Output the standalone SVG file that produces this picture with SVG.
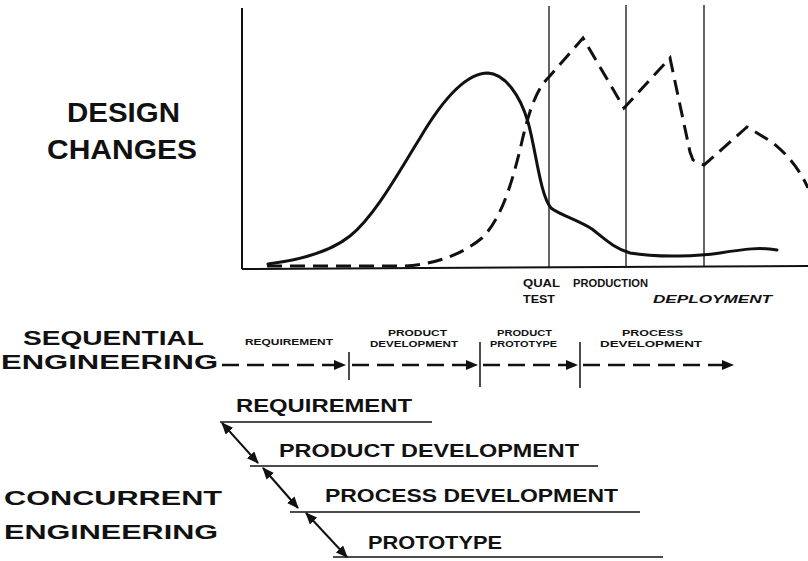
<svg xmlns="http://www.w3.org/2000/svg" width="808" height="561" viewBox="0 0 808 561">
<style>
text{font-family:"Liberation Sans",Arial,sans-serif;font-weight:bold;fill:#111}
.big{font-size:21px}
.huge{font-size:28px}
.mid{font-size:19px}
.sm{font-size:11.5px}
.xs{font-size:9px}
.ax{stroke:#111;stroke-width:2;fill:none}
.vl{stroke:#111;stroke-width:1.3;fill:none}
.sol{stroke:#111;stroke-width:3;fill:none;stroke-linejoin:round;stroke-linecap:round}
.dsh{stroke:#111;stroke-width:3;fill:none;stroke-dasharray:15 8}
.seq{stroke:#111;stroke-width:2.5;fill:none;stroke-dasharray:17 8}
.tick{stroke:#111;stroke-width:1.5}
.base{stroke:#111;stroke-width:1.5}
.dbl{stroke:#111;stroke-width:2;fill:none}
</style>
<defs>
<marker id="ah" viewBox="0 0 12 10" refX="11" refY="5" markerWidth="12" markerHeight="10" markerUnits="userSpaceOnUse" orient="auto-start-reverse">
<path d="M0,0 L12,5 L0,10 Z" fill="#111"/>
</marker>
</defs>

<g id="chart">
<line class="ax" x1="242" y1="8" x2="242" y2="269"/>
<line class="ax" x1="242" y1="269" x2="808" y2="266"/>
<line class="vl" x1="549" y1="6" x2="549" y2="268"/>
<line class="vl" x1="626" y1="5" x2="626" y2="267"/>
<line class="vl" x1="704" y1="5" x2="704" y2="266"/>
<path class="sol" d="M268,264 C300,260 330,252 350,236 C375,216 400,170 420,138 C440,104 465,73 488,73 C505,74 520,95 528,122 C536,150 540,195 551,208 C560,215 578,220 592,229 C606,240 614,248 630,253 C660,258 700,256 720,253 C745,249 760,247 777,250"/>
<path class="dsh" d="M267,266 L405,266 C440,264 465,252 482,238 C500,220 510,190 520,150 C527,118 535,90 549,77 L583,38 L624,108 L670,58 L690,152 L693,160 L704,165 L747,127 L772,142 C788,155 800,170 808,188"/>
</g>

<g id="labels-chart">
<text class="huge" x="67" y="122" textLength="113" lengthAdjust="spacingAndGlyphs">DESIGN</text>
<text class="huge" x="47" y="159" textLength="150" lengthAdjust="spacingAndGlyphs">CHANGES</text>
<text class="sm" x="523" y="287" textLength="37" lengthAdjust="spacingAndGlyphs">QUAL</text>
<text class="sm" x="523" y="303" textLength="32" lengthAdjust="spacingAndGlyphs">TEST</text>
<text class="sm" x="573" y="287" textLength="75" lengthAdjust="spacingAndGlyphs">PRODUCTION</text>
<text class="sm" x="653" y="303" textLength="119" lengthAdjust="spacingAndGlyphs" font-style="italic">DEPLOYMENT</text>
</g>

<g id="sequential">
<text class="big" x="23" y="345" textLength="181" lengthAdjust="spacingAndGlyphs">SEQUENTIAL</text>
<text class="big" x="1" y="369" textLength="217" lengthAdjust="spacingAndGlyphs">ENGINEERING</text>
<text class="xs" x="245" y="345" textLength="88" lengthAdjust="spacingAndGlyphs">REQUIREMENT</text>
<text class="xs" x="388" y="336" textLength="59" lengthAdjust="spacingAndGlyphs">PRODUCT</text>
<text class="xs" x="370" y="347" textLength="88" lengthAdjust="spacingAndGlyphs">DEVELOPMENT</text>
<text class="xs" x="497" y="336" textLength="55" lengthAdjust="spacingAndGlyphs">PRODUCT</text>
<text class="xs" x="490" y="347" textLength="67" lengthAdjust="spacingAndGlyphs">PROTOTYPE</text>
<text class="xs" x="622" y="336" textLength="61" lengthAdjust="spacingAndGlyphs">PROCESS</text>
<text class="xs" x="600" y="347" textLength="102" lengthAdjust="spacingAndGlyphs">DEVELOPMENT</text>
</g>

<g id="sequential-connectors">
<line class="seq" x1="222" y1="365" x2="345" y2="365" marker-end="url(#ah)"/>
<line class="tick" x1="349" y1="352" x2="349" y2="380"/>
<line class="seq" x1="352" y1="365" x2="477" y2="365" marker-end="url(#ah)"/>
<line class="tick" x1="480" y1="342" x2="480" y2="387"/>
<line class="seq" x1="483" y1="365" x2="577" y2="365" marker-end="url(#ah)"/>
<line class="tick" x1="580" y1="342" x2="580" y2="388"/>
<line class="seq" x1="583" y1="365" x2="733" y2="365" marker-end="url(#ah)"/>
</g>

<g id="concurrent">
<text class="big" x="4" y="505" textLength="218" lengthAdjust="spacingAndGlyphs">CONCURRENT</text>
<text class="big" x="4" y="539" textLength="214" lengthAdjust="spacingAndGlyphs">ENGINEERING</text>
<text class="mid" x="236" y="412" textLength="176" lengthAdjust="spacingAndGlyphs">REQUIREMENT</text>
<line class="base" x1="220" y1="422" x2="432" y2="422"/>
<text class="mid" x="279" y="457" textLength="300" lengthAdjust="spacingAndGlyphs">PRODUCT DEVELOPMENT</text>
<line class="base" x1="250" y1="466" x2="598" y2="466"/>
<text class="mid" x="325" y="502" textLength="293" lengthAdjust="spacingAndGlyphs">PROCESS DEVELOPMENT</text>
<line class="base" x1="290" y1="512" x2="640" y2="512"/>
<text class="mid" x="368" y="549" textLength="134" lengthAdjust="spacingAndGlyphs">PROTOTYPE</text>
<line class="base" x1="333" y1="557" x2="663" y2="557"/>
</g>

<g id="concurrent-connectors">
<line class="dbl" x1="222" y1="423" x2="258" y2="463" marker-start="url(#ah)" marker-end="url(#ah)"/>
<line class="dbl" x1="263" y1="468" x2="298" y2="508" marker-start="url(#ah)" marker-end="url(#ah)"/>
<line class="dbl" x1="306" y1="513" x2="347" y2="557" marker-start="url(#ah)" marker-end="url(#ah)"/>
</g>
</svg>
